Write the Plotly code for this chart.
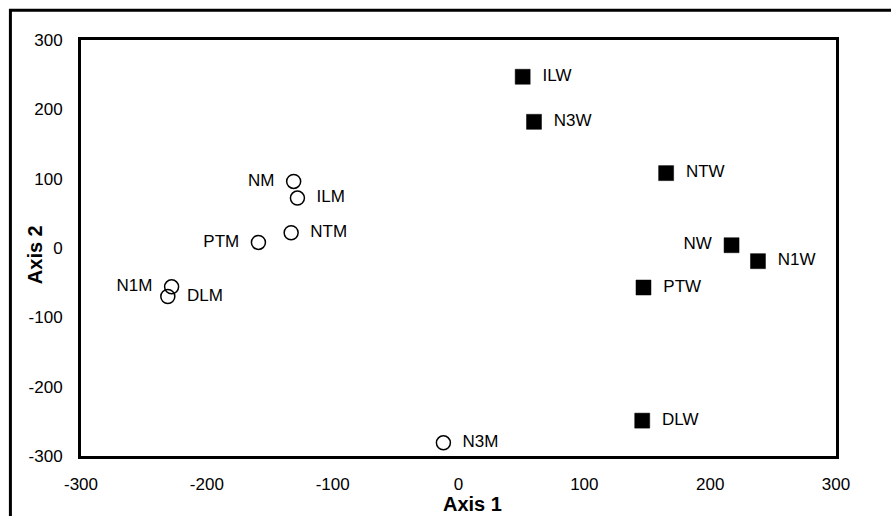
import plotly.graph_objects as go

# Data
m_labels = ["NM", "ILM", "NTM", "PTM", "N1M", "DLM", "N3M"]
m_x = [-131, -128, -133, -159, -228, -231, -12]
m_y = [96, 72, 22, 8, -56, -70, -281]
m_pos = ["middle left", "middle right", "middle right", "middle left", "middle left", "middle right", "middle right"]

w_labels = ["ILW", "N3W", "NTW", "NW", "N1W", "PTW", "DLW"]
w_x = [51, 60, 165, 217, 238, 147, 146]
w_y = [247, 182, 108, 4, -19, -57, -249]
w_pos = ["middle right", "middle right", "middle right", "middle left", "middle right", "middle right", "middle right"]

tick_vals = [-300, -200, -100, 0, 100, 200, 300]
tick_text = ["-300", "-200", "-100", "0", "100", "200", "300"]

FONT = "Liberation Sans, Arial, sans-serif"


def pad(labels, positions):
    out = []
    for t, p in zip(labels, positions):
        out.append(t + "  " if p.endswith("left") else "  " + t)
    return out


fig = go.Figure()
fig.add_trace(go.Scatter(
    x=m_x, y=m_y, mode="markers+text", text=pad(m_labels, m_pos), textposition=m_pos,
    textfont=dict(family=FONT, size=17, color="black"),
    marker=dict(symbol="circle-open", size=14, color="black", line=dict(width=1.5, color="black")),
    showlegend=False, hoverinfo="skip", cliponaxis=False,
))
fig.add_trace(go.Scatter(
    x=w_x, y=w_y, mode="markers+text", text=pad(w_labels, w_pos), textposition=w_pos,
    textfont=dict(family=FONT, size=17, color="black"),
    marker=dict(symbol="square", size=15, color="black", line=dict(width=0.5, color="black")),
    showlegend=False, hoverinfo="skip", cliponaxis=False,
))

axis_common = dict(
    range=[-300, 300], tickvals=tick_vals, ticktext=tick_text,
    showgrid=False, zeroline=False, showline=True, mirror=True,
    linecolor="black", linewidth=3, ticks="",
    tickfont=dict(family=FONT, size=17, color="black"),
)

fig.update_layout(
    width=891, height=516,
    margin=dict(l=81, r=55, t=40, b=60),
    paper_bgcolor="white", plot_bgcolor="white",
    xaxis=dict(**axis_common, ticklabelstandoff=11),
    yaxis=dict(**axis_common, ticklabelstandoff=12),
    shapes=[dict(type="rect", xref="paper", yref="paper",
                 x0=-0.0935, x1=1.2, y0=-0.3, y1=1.0715,
                 line=dict(color="black", width=3), layer="above")],
    annotations=[
        dict(text="<b>Axis 1</b>", xref="paper", yref="paper", x=0.518, y=0,
             xanchor="center", yanchor="middle", yshift=-48, showarrow=False,
             font=dict(family=FONT, size=20, color="black")),
        dict(text="<b>Axis 2</b>", xref="paper", yref="paper", x=-0.061, y=0.485,
             xanchor="center", yanchor="middle", textangle=-90, showarrow=False,
             font=dict(family=FONT, size=20, color="black")),
    ],
)

fig.write_html("out.html", config={"displayModeBar": False},
               post_script="document.body.style.margin='0';")
